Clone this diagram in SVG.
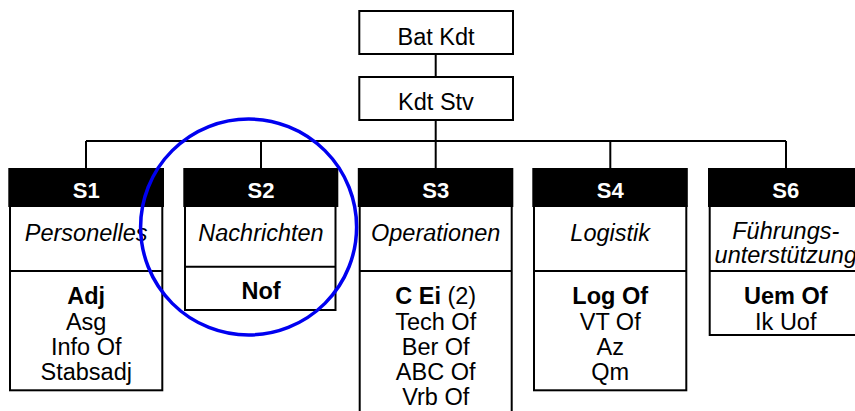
<svg xmlns="http://www.w3.org/2000/svg" width="855" height="411" viewBox="0 0 855 411">
<style>
text{font-family:"Liberation Sans",Arial,sans-serif;font-size:23.5px;fill:#000;text-anchor:middle}
.hd{font-weight:bold;fill:#fff;font-size:22px}
.it{font-style:italic}
.b{font-weight:bold}
.box{fill:#fff;stroke:#000;stroke-width:2}
.bar{fill:#000}
.ln{stroke:#000;stroke-width:2;fill:none}
</style>
<rect width="855" height="411" fill="#fff"/>
<g id="connectors" class="ln">
<line x1="435.7" y1="55" x2="435.7" y2="76"/>
<line x1="435.7" y1="120" x2="435.7" y2="168"/>
<line x1="86" y1="141" x2="786" y2="141"/>
<line x1="86" y1="141" x2="86" y2="168"/>
<line x1="261" y1="141" x2="261" y2="168"/>
<line x1="610.3" y1="141" x2="610.3" y2="168"/>
<line x1="786" y1="141" x2="786" y2="168"/>
</g>
<g id="batkdt">
<rect class="box" x="359.3" y="11" width="153.7" height="43"/>
<text x="436" y="45">Bat Kdt</text>
</g>
<g id="kdtstv">
<rect class="box" x="359.3" y="77" width="153.7" height="43"/>
<text x="436" y="110">Kdt Stv</text>
</g>
<g id="s1">
<rect class="box" x="10" y="206" width="152.3" height="184.3"/>
<line class="ln" x1="10" y1="271" x2="162.3" y2="271"/>
<rect class="bar" x="8.3" y="168" width="155.7" height="39"/>
<text class="hd" x="86.2" y="198">S1</text>
<text class="it" x="86.2" y="240.7">Personelles</text>
<text class="b" x="86.2" y="304.3">Adj</text>
<text x="86.2" y="329.5">Asg</text>
<text x="86.2" y="354.7">Info Of</text>
<text x="86.2" y="379.9">Stabsadj</text>
</g>
<g id="s2">
<rect class="box" x="185" y="206" width="150.5" height="104"/>
<line class="ln" x1="185" y1="266.7" x2="335.5" y2="266.7"/>
<rect class="bar" x="183.3" y="168" width="155" height="39"/>
<text class="hd" x="261" y="198">S2</text>
<text class="it" x="261" y="240.7">Nachrichten</text>
<text class="b" x="261" y="299.3">Nof</text>
</g>
<g id="s3">
<rect class="box" x="359.7" y="206" width="152" height="220"/>
<line class="ln" x1="359.7" y1="271" x2="511.7" y2="271"/>
<rect class="bar" x="357.8" y="168" width="155.5" height="39"/>
<text class="hd" x="435.7" y="198">S3</text>
<text class="it" x="435.7" y="240.7">Operationen</text>
<text x="435.7" y="304.3"><tspan class="b">C Ei</tspan> (2)</text>
<text x="435.7" y="329.5">Tech Of</text>
<text x="435.7" y="354.7">Ber Of</text>
<text x="435.7" y="379.9">ABC Of</text>
<text x="435.7" y="405.1">Vrb Of</text>
</g>
<g id="s4">
<rect class="box" x="534" y="206" width="152.3" height="184.3"/>
<line class="ln" x1="534" y1="271" x2="686.3" y2="271"/>
<rect class="bar" x="532.3" y="168" width="155.5" height="39"/>
<text class="hd" x="610.2" y="198">S4</text>
<text class="it" x="610.2" y="240.7">Logistik</text>
<text class="b" x="610.2" y="304.3">Log Of</text>
<text x="610.2" y="329.5">VT Of</text>
<text x="610.2" y="354.7">Az</text>
<text x="610.2" y="379.9">Qm</text>
</g>
<g id="s6">
<rect class="box" x="709.7" y="206" width="152.3" height="129"/>
<line class="ln" x1="709.7" y1="271" x2="862" y2="271"/>
<rect class="bar" x="708" y="168" width="155.5" height="39"/>
<text class="hd" x="785.8" y="198">S6</text>
<text class="it" x="785.8" y="239.3">Führungs-</text>
<text class="it" x="785.8" y="263.3">unterstützung</text>
<text class="b" x="785.8" y="304.3">Uem Of</text>
<text x="785.8" y="329.5">Ik Uof</text>
</g>
<circle cx="248.6" cy="227" r="108" fill="none" stroke="#0000f0" stroke-width="3.5"/>
</svg>
